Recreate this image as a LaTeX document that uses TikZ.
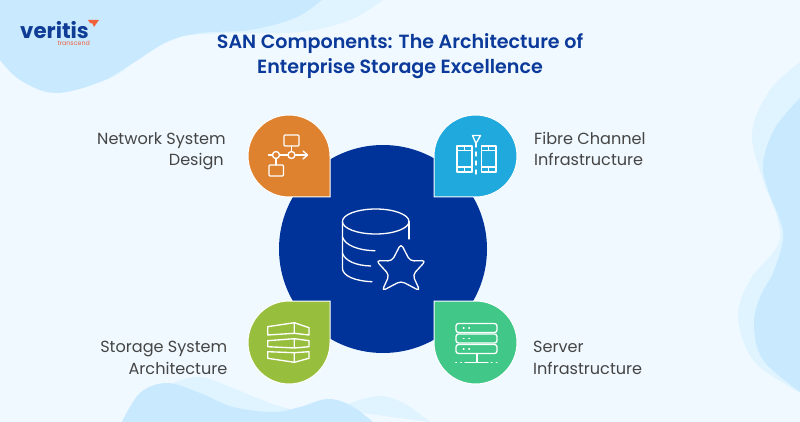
\documentclass[tikz,border=0pt]{standalone}
\usepackage{fontspec}
\setmainfont{Poppins}[BoldFont={Poppins SemiBold}]
\newfontfamily\logofont{Poppins}
\definecolor{bgc}{HTML}{F0F9FF}
\definecolor{blobA}{HTML}{C9E9FF}
\definecolor{blobB}{HTML}{E0F4FF}
\definecolor{navy}{HTML}{003399}
\definecolor{titlec}{HTML}{0B3A9A}
\definecolor{labelc}{HTML}{454545}
\definecolor{orangec}{HTML}{DE8230}
\definecolor{bluec}{HTML}{1FA9DC}
\definecolor{greenc}{HTML}{97BE3D}
\definecolor{tealc}{HTML}{41C788}
\definecolor{logoc}{HTML}{0F3D96}
\definecolor{logor}{HTML}{F0603A}
\tikzset{
  drop/.style={draw=white,line width=1pt},
  icon/.style={draw=white,line width=1.35pt,line cap=round,line join=round},
  bigicon/.style={draw=white,line width=1.3pt,line cap=round,line join=round},
  lab/.style={text=labelc,font=\fontsize{16.1}{21.5}\selectfont,inner sep=0pt},
}
\begin{document}
\begin{tikzpicture}[x=1pt,y=-1pt]
\useasboundingbox (0,0) rectangle (800,422);
\fill[bgc] (0,0) rectangle (800,422);
% blobs
\fill[blobB] plot[smooth,tension=0.6] coordinates {(60,92) (83,87) (117,75) (147,50) (170,37) (190,35) (233,33) (300,32) (350,20) (383,0)} -- (0,0) -- cycle;
\fill[blobA] plot[smooth,tension=0.6] coordinates {(0,60) (20,80) (55,93) (100,82) (133,63) (167,42) (200,33) (250,30) (295,18) (322,0)} -- (0,0) -- cycle;
\fill[blobB] plot[smooth,tension=0.6] coordinates {(800,62) (770,90) (752,133) (763,180) (777,217) (778,245) (750,280) (738,317) (753,360) (790,387) (800,392)} -- cycle;
\fill[blobA] plot[smooth,tension=0.6] coordinates {(800,98) (775,128) (763,163) (768,190) (780,220) (783,240) (773,273) (760,297) (754,325) (763,360) (800,392)} -- cycle;
\fill[blobB] plot[smooth,tension=0.6] coordinates {(173,383) (200,377) (233,388) (267,402) (293,410)} -- (293,422) -- (170,422) -- cycle;
\fill[blobB] plot[smooth,tension=0.6] coordinates {(340,410) (353,402) (382,396) (407,405) (430,422)} -- cycle;
\fill[blobA] plot[smooth,tension=0.6] coordinates {(122,422) (140,393) (167,383) (200,393) (233,407) (273,412) (300,407) (327,399) (350,405) (373,422)} -- cycle;
% centre
\node[circle,fill=navy,minimum size=208pt,inner sep=0pt] (hub) at (383,249) {};
% drops
\filldraw[drop,fill=orangec] (330,197) -- (289,197) arc[start angle=90,end angle=360,x radius=41,y radius=41] -- cycle;
\filldraw[drop,fill=bluec] (434,197) -- (434,156) arc[start angle=180,end angle=450,x radius=41.5,y radius=41] -- cycle;
\filldraw[drop,fill=greenc] (330,301) -- (330,342.5) arc[start angle=0,end angle=270,x radius=41,y radius=41.5] -- cycle;
\filldraw[drop,fill=tealc] (434,301) -- (475.5,301) arc[start angle=-90,end angle=180,x radius=41.5,y radius=41.5] -- cycle;
% orange icon
\draw[icon,rounded corners=1pt] (284,135) rectangle (299,146);
\draw[icon,rounded corners=1pt] (269,165) rectangle (283.5,176);
\draw[icon] (291.5,146) -- (291.5,151.5);
\draw[icon] (276,158.5) -- (276,165);
\draw[icon] (268.5,155) -- (272.5,155);
\draw[icon] (279.5,155) -- (288,155);
\draw[icon] (295,155) -- (307,155);
\draw[icon] (303,151) -- (307.5,155) -- (303,159);
\draw[icon] (276,155) circle[radius=3.5];
\draw[icon] (291.5,155) circle[radius=3.5];
% blue icon
\draw[icon] (457,146) rectangle (472,172);
\draw[icon] (481.5,146) rectangle (496,172);
\draw[icon] (457,150.5) -- (472,150.5) (457,167) -- (472,167) (464.5,146) -- (464.5,150.5) (464.5,167) -- (464.5,172);
\draw[icon] (481.5,150.5) -- (496,150.5) (481.5,167) -- (496,167) (488.5,146) -- (488.5,150.5) (488.5,167) -- (488.5,172);
\draw[icon] (472.5,135.5) -- (480.5,135.5) -- (476,143.5) -- cycle;
\draw[icon] (476,143.5) -- (476,147) (476,152) -- (476,156) (476,161) -- (476,165) (476,170) -- (476,174);
% green icon
\draw[icon] (267.7,326.7) -- (294.3,322.7) -- (309,327.7) -- (309,335) -- (294.3,333.3) -- (267.7,335) -- cycle (294.3,322.7) -- (294.3,333.3);
\draw[icon] (267.7,340.7) -- (294.3,338.7) -- (309,340.7) -- (309,346.7) -- (294.3,348) -- (267.7,346.7) -- cycle (294.3,338.7) -- (294.3,348);
\draw[icon] (267.7,351.7) -- (294.3,352.7) -- (309,351.7) -- (309,358.3) -- (294.3,362.3) -- (267.7,358.3) -- cycle (294.3,352.7) -- (294.3,362.3);
% teal icon
\draw[icon,rounded corners=2.5pt] (456,323.5) rectangle (497,332.5);
\draw[icon,rounded corners=2.5pt] (456,334) rectangle (497,343);
\draw[icon,rounded corners=2.5pt] (456,344.5) rectangle (497,353.5);
\foreach \yy in {328,338.5,349}{\draw[icon] (463.3,\yy) -- (464,\yy) (468.8,\yy) -- (469.5,\yy);}
\draw[icon] (477,353.5) -- (477,362.5) (465,362.5) -- (488,362.5);
\draw[icon] (455.8,362.5) -- (456.5,362.5) (460.8,362.5) -- (461.5,362.5) (491.3,362.5) -- (492,362.5) (496.3,362.5) -- (497,362.5);
% database
\draw[bigicon] (375.7,221.5) ellipse[x radius=33.3,y radius=12.5];
\draw[bigicon] (342.4,221.5) -- (342.4,268) .. controls (342.4,276) and (355,281) .. (372,281.7);
\draw[bigicon] (342.4,237) .. controls (345,245) and (358,250.5) .. (375,250.7);
\draw[bigicon] (342.4,253) .. controls (345,261) and (356,265.5) .. (370.7,266);
\draw[bigicon] (409,221.5) -- (409,239);
\draw[bigicon,rounded corners=4pt] (401,243.5) -- (410,261) -- (426,260.5) -- (412.7,275) -- (420,291) -- (401,281) -- (382,291) -- (389.3,275) -- (376,260.5) -- (392,261) -- cycle;
% title
\node[text=titlec,font=\fontsize{19.1}{25}\selectfont\bfseries,align=center,inner sep=0pt] (title) at (400,56) {SAN Components: The Architecture of\\Enterprise Storage Excellence};
% labels
\node[lab,align=right,anchor=north east] (l1) at (226,132) {Network System\\Design\hspace*{2pt}};
\node[lab,align=left,anchor=north west] (l2) at (534,132) {Fibre Channel\\Infrastructure};
\node[lab,align=right,anchor=north east] (l3) at (227.5,341) {Storage System\\Architecture};
\node[lab,align=left,anchor=north west] (l4) at (533,341) {Server\\Infrastructure};
% logo
\node[text=logoc,font=\logofont\bfseries\fontsize{21.3}{22}\selectfont,inner sep=0pt,anchor=base west] (logo) at (20,38.5) {veritis};
\node[text=logor,font=\fontsize{6.3}{6.5}\selectfont,inner sep=0pt,anchor=base east] (sub) at (90,45.5) {transcend};
\fill[logor] (88,20) -- (99,20) -- (97.5,22) -- (94,27) -- (92.5,23.5) -- (90,23) -- cycle;
\end{tikzpicture}
\end{document}
